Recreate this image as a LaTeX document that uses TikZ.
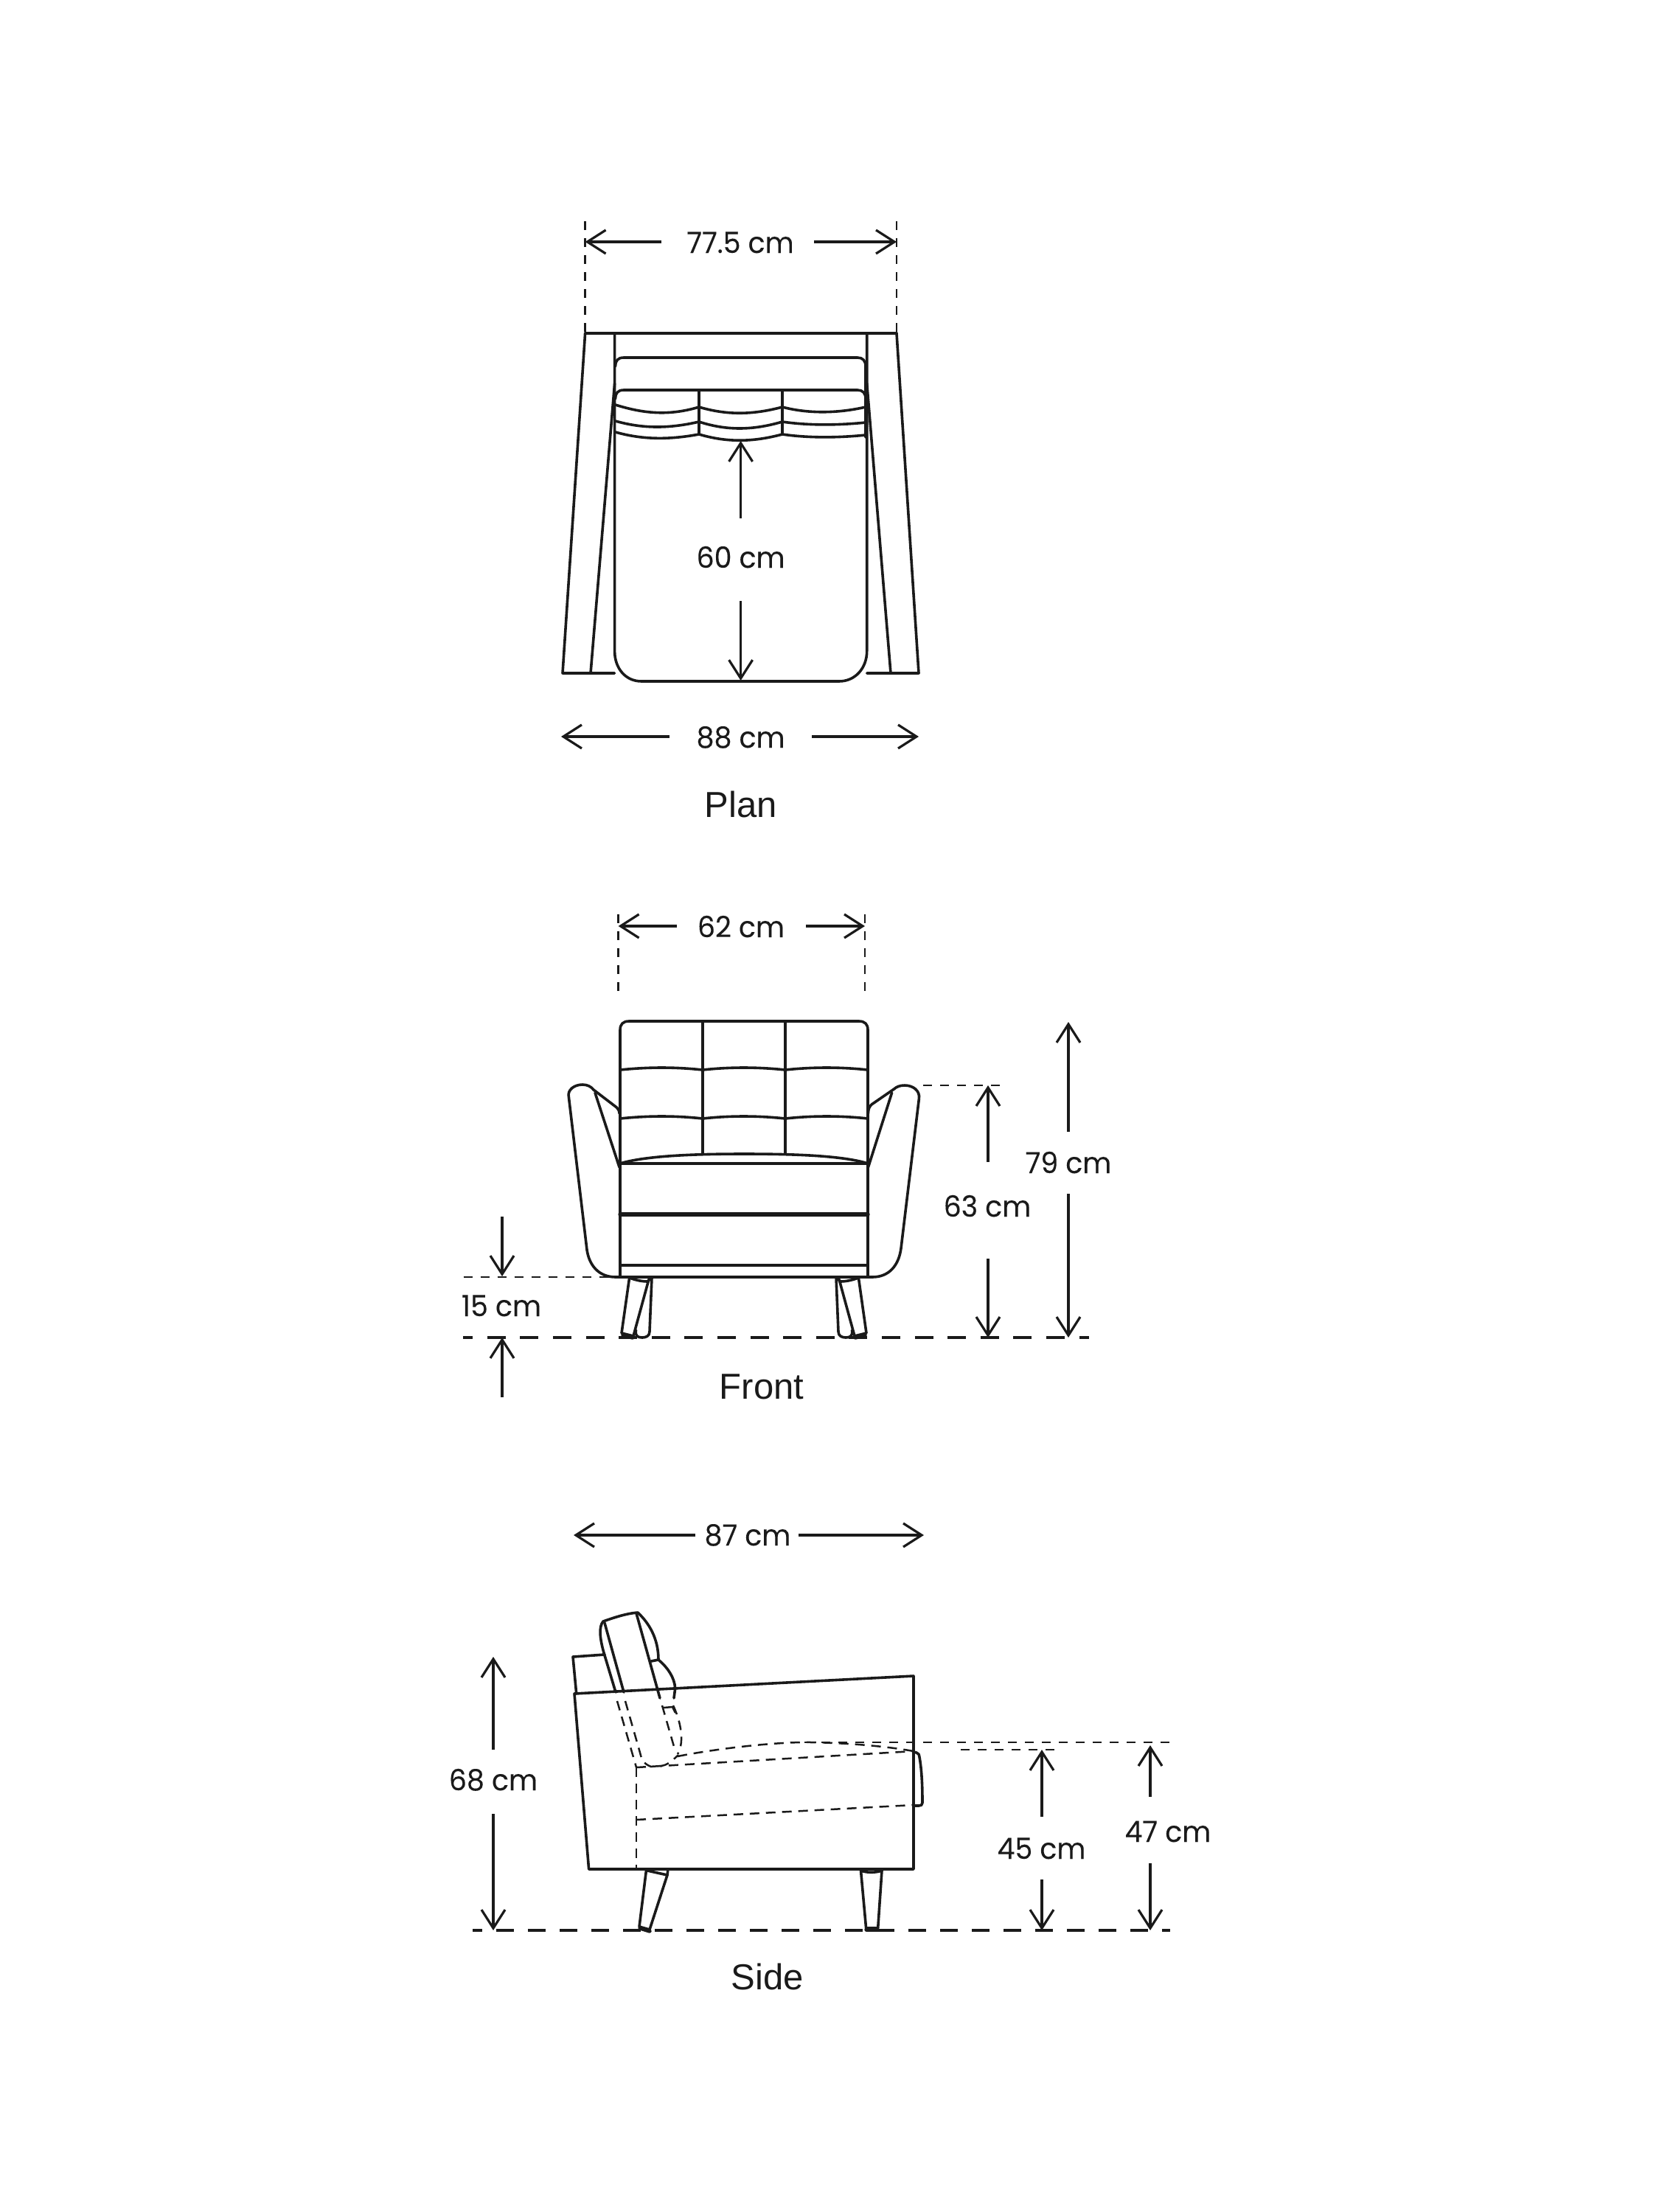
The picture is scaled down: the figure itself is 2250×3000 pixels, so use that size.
\documentclass[tikz,border=0pt]{standalone}
\usepackage{fontspec}
\setmainfont{Liberation Sans}
\newfontfamily\dimfont[FakeStretch=0.96,FakeBold=0.12]{Poppins}
\usetikzlibrary{arrows.meta}
\definecolor{ink}{HTML}{1A1A1A}
\tikzset{
  base/.style={line width=3.6pt,color=ink,line join=round,line cap=round},
  heavy/.style={base,line width=5.4pt},
  hid/.style={line width=2.4pt,color=ink,dash pattern=on 12pt off 11pt},
  hidb/.style={line width=2.5pt,color=ink,dash pattern=on 13pt off 9pt},
  groundf/.style={line width=3.4pt,color=ink,dash pattern=on 25pt off 19.6pt},
  grounds/.style={line width=3.4pt,color=ink,dash pattern=on 24.3pt off 18.7pt},
  dimline/.style={line width=3.1pt,color=ink,-{Straight Barb[length=25pt,width=32pt,line width=3.2pt]}},
  dimtext/.style={font=\dimfont\fontsize{39.5}{40}\selectfont,text=ink,anchor=base,inner sep=0pt},
  viewtext/.style={font=\fontsize{49}{49}\selectfont,text=ink,anchor=base,inner sep=0pt},
}
\begin{document}
\begin{tikzpicture}[x=1pt,y=-1pt]
\useasboundingbox[fill=white] (0,0) rectangle (2250,3000);

%% ---------- PLAN ----------
\draw[hid] (793.6,300) -- (793.6,452);
\draw[hid] (1216,300) -- (1216,452);
\draw[base] (793.6,452) -- (1216,452);
\draw[base] (793.6,452) -- (763,913) -- (833.6,913);
\draw[base] (1216,452) -- (1246,913) -- (1175.7,913);
\draw[base] (801,913) -- (833.6,520);
\draw[base] (1208,913) -- (1175.7,520);
\draw[base] (833.6,452) -- (833.6,883) .. controls (833.6,906) and (848,924) .. (870,924)
  -- (1138,924) .. controls (1160,924) and (1175.7,906) .. (1175.7,883) -- (1175.7,452);
\draw[base] (834.6,497) .. controls (834.6,489) and (838,485) .. (846,485) -- (1163,485)
  .. controls (1170,485) and (1174,489) .. (1174,497) -- (1174,593);
\draw[base] (834.6,541) .. controls (834.6,533) and (838,529) .. (846,529) -- (1163,529)
  .. controls (1170,529) and (1174,533) .. (1174,541);
\draw[base] (948,529) -- (948,589);
\draw[base] (1061,529) -- (1061,589);
\draw[base] (834.6,549) .. controls (870,560) and (905,565) .. (948,552)
  .. controls (985,563) and (1020,563) .. (1061,552)
  .. controls (1095,561) and (1135,561) .. (1174,552);
\draw[base] (834.6,571) .. controls (870,581) and (905,582) .. (948,572)
  .. controls (985,584) and (1020,584) .. (1061,572)
  .. controls (1095,577) and (1135,577) .. (1174,573);
\draw[base] (834.6,586) .. controls (870,596) and (905,597) .. (948,589)
  .. controls (985,600) and (1020,600) .. (1061,589)
  .. controls (1095,594) and (1135,594) .. (1174,590);
% plan dimensions
\node[dimtext] (t775) at (1004,343) {77.5 cm};
\coordinate (a1s) at (897,328); \coordinate (a1e) at (793.6,328);
\coordinate (a2s) at (1104,328); \coordinate (a2e) at (1216,328);
\draw[dimline] (a1s) -- (a1e);
\draw[dimline] (a2s) -- (a2e);
\node[dimtext] (t60) at (1004.6,770) {60 cm};
\coordinate (b1s) at (1004.6,703); \coordinate (b1e) at (1004.6,598);
\coordinate (b2s) at (1004.6,815); \coordinate (b2e) at (1004.6,923);
\draw[dimline] (b1s) -- (b1e);
\draw[dimline] (b2s) -- (b2e);
\node[dimtext] (t88) at (1004.6,1014) {88 cm};
\coordinate (c1s) at (908,999); \coordinate (c1e) at (761,999);
\coordinate (c2s) at (1101,999); \coordinate (c2e) at (1246,999);
\draw[dimline] (c1s) -- (c1e);
\draw[dimline] (c2s) -- (c2e);
\node[viewtext] (plan) at (1005,1108) {Plan};

%% ---------- FRONT ----------
\draw[hid] (838.6,1240) -- (838.6,1345);
\draw[hid] (1173,1240) -- (1173,1345);
\node[dimtext] (t62) at (1005,1271) {62 cm};
\coordinate (d1s) at (918,1256); \coordinate (d1e) at (838.6,1256);
\coordinate (d2s) at (1093,1256); \coordinate (d2e) at (1173,1256);
\draw[dimline] (d1s) -- (d1e);
\draw[dimline] (d2s) -- (d2e);
% back
\draw[base] (841,1732) -- (841,1397) .. controls (841,1389) and (845,1385) .. (853,1385) -- (1165,1385)
  .. controls (1173,1385) and (1177,1389) .. (1177,1397) -- (1177,1732);
\draw[base] (953,1385) -- (953,1565);
\draw[base] (1065,1385) -- (1065,1565);
\draw[base] (841,1451) .. controls (880,1447) and (915,1447) .. (953,1451)
  .. controls (990,1447) and (1027,1447) .. (1065,1451)
  .. controls (1102,1447) and (1140,1447) .. (1177,1451);
\draw[base] (841,1517) .. controls (880,1513) and (915,1513) .. (953,1517)
  .. controls (990,1513) and (1027,1513) .. (1065,1517)
  .. controls (1102,1513) and (1140,1513) .. (1177,1517);
\draw[base] (841,1578) .. controls (880,1566) and (960,1565) .. (1009,1565)
  .. controls (1060,1565) and (1140,1566) .. (1177,1578);
\draw[base] (841,1578) -- (1177,1578);
\draw[heavy] (841,1647) -- (1177,1647);
\draw[base] (841,1716) -- (1177,1716);
\draw[base] (796,1695) -- (771.4,1488) .. controls (769,1478) and (779,1471) .. (790,1471)
  .. controls (797,1471) and (802,1474) .. (805,1478) -- (836.4,1502) .. controls (838,1504) and (840,1506) .. (840,1510);
\draw[base] (807,1482) -- (840,1583);
\draw[base] (796,1695) .. controls (799,1716) and (812,1732) .. (835,1732) -- (1183,1732)
  .. controls (1206,1732) and (1219,1716) .. (1222,1693) -- (1246.4,1490)
  .. controls (1248,1479) and (1238,1472) .. (1227,1472) .. controls (1220,1472) and (1216,1474) .. (1212.5,1477)
  -- (1182,1498) .. controls (1179,1501) and (1177.5,1504) .. (1177.5,1510);
\draw[base] (1209.6,1482) -- (1177.5,1583);
% legs
\draw[base] (853.6,1733) -- (843,1808) -- (859,1812) -- (880,1735);
\draw[heavy] (845,1811) -- (858,1814);
\draw[base] (853.6,1733) .. controls (862,1736) and (870,1738) .. (878.6,1738) -- (882,1734);
\draw[base] (884,1733) -- (881,1806) .. controls (881,1812) and (876,1814) .. (871,1814)
  .. controls (865,1814) and (861,1812) .. (862.5,1804);
\draw[base] (2018-853.6,1733) -- (2018-843,1808) -- (2018-859,1812) -- (2018-880,1735);
\draw[heavy] (2018-845,1811) -- (2018-858,1814);
\draw[base] (2018-853.6,1733) .. controls (2018-862,1736) and (2018-870,1738) .. (2018-878.6,1738) -- (2018-882,1734);
\draw[base] (2018-884,1733) -- (2018-881,1806) .. controls (2018-881,1812) and (2018-876,1814) .. (2018-871,1814)
  .. controls (2018-865,1814) and (2018-861,1812) .. (2018-862.5,1804);
% front dims
\draw[groundf,dash phase=11.9pt] (628,1814) -- (1477,1814);
\draw[hid] (628.6,1732) -- (825,1732);
\draw[hid] (1252,1472) -- (1357,1472);
\node[dimtext] (t15) at (680,1785) {15 cm};
\coordinate (e1s) at (681,1650); \coordinate (e1e) at (681,1731);
\coordinate (e2s) at (681,1895); \coordinate (e2e) at (681,1814);
\draw[dimline] (e1s) -- (e1e);
\draw[dimline] (e2s) -- (e2e);
\node[dimtext] (t79) at (1449,1591) {79 cm};
\coordinate (f1s) at (1449,1535); \coordinate (f1e) at (1449,1386);
\coordinate (f2s) at (1449,1619); \coordinate (f2e) at (1449,1814);
\draw[dimline] (f1s) -- (f1e);
\draw[dimline] (f2s) -- (f2e);
\node[dimtext] (t63) at (1339,1650) {63 cm};
\coordinate (g1s) at (1340,1576); \coordinate (g1e) at (1340,1472);
\coordinate (g2s) at (1340,1707); \coordinate (g2e) at (1340,1814);
\draw[dimline] (g1s) -- (g1e);
\draw[dimline] (g2s) -- (g2e);
\node[viewtext] (front) at (1033,1897) {Front};

%% ---------- SIDE ----------
\node[dimtext] (t87) at (1014,2096) {87 cm};
\coordinate (h1s) at (943,2082); \coordinate (h1e) at (778,2082);
\coordinate (h2s) at (1083,2082); \coordinate (h2e) at (1253,2082);
\draw[dimline] (h1s) -- (h1e);
\draw[dimline] (h2s) -- (h2e);
% body
\draw[base] (779,2297) -- (1239,2273) -- (1239,2535) -- (798.6,2535) -- cycle;
\draw[base] (781.7,2297) -- (777,2247) -- (820,2244);
% headrest
\draw[base] (835,2295) -- (820,2245) .. controls (813,2222) and (812,2206) .. (818,2199)
  .. controls (832,2194) and (850,2188) .. (865,2187)
  .. controls (880,2201) and (893,2222) .. (893,2251)
  .. controls (905,2261) and (915,2275) .. (915.7,2290) -- (914,2303);
\draw[base] (820,2201) -- (846,2295);
\draw[base] (863,2188) -- (895,2303);
\draw[base] (883,2253) -- (893,2251);
\draw[hidb] (837,2307) -- (863,2397);
\draw[hidb] (848,2307) -- (868,2377) .. controls (870,2385) and (872,2392) .. (883,2396)
  -- (897,2395) .. controls (903,2394) and (909,2391) .. (920,2380);
\draw[hidb] (898,2313) -- (915,2372);
\draw[hidb] (913,2313) .. controls (921,2330) and (930,2360) .. (919,2379);
\draw[line width=2.5pt,color=ink] (900,2316) -- (912,2315) -- (916,2323);
% seat hidden lines
\draw[hidb] (863,2397) -- (1239,2375);
\draw[hidb] (919,2382) .. controls (980,2370) and (1060,2362) .. (1101,2363)
  .. controls (1150,2364) and (1200,2368) .. (1239,2375);
\draw[hidb] (863,2468) -- (1239,2448);
\draw[hidb] (863,2397) -- (863,2535);
% front cushion bump
\draw[base] (1239,2376) -- (1243,2377) .. controls (1246,2378) and (1247,2380) .. (1247,2383)
  .. controls (1250,2400) and (1251,2420) .. (1251,2445)
  .. controls (1251,2448) and (1249,2449) .. (1246,2449) -- (1239,2449);
% legs
\draw[base] (876.4,2537) -- (867,2613) -- (881,2617) -- (905,2543) -- (905.7,2537);
\draw[base] (878,2537) -- (905,2543);
\draw[heavy] (868,2615) -- (881,2619);
\draw[base] (1167.5,2537) -- (1174.6,2615) -- (1190.7,2615) -- (1196,2537)
  .. controls (1187,2540) and (1176,2540) .. (1167.5,2537);
\draw[heavy] (1175,2617) -- (1190,2617);
% side dims
\draw[grounds,dash phase=11pt] (641,2618) -- (1587,2618);
\draw[hid] (1091,2363) -- (1587,2363);
\draw[hid] (1303,2373) -- (1432,2373);
\node[dimtext] (t68) at (669,2428) {68 cm};
\coordinate (i1s) at (669,2373); \coordinate (i1e) at (669,2247);
\coordinate (i2s) at (669,2460); \coordinate (i2e) at (669,2618);
\draw[dimline] (i1s) -- (i1e);
\draw[dimline] (i2s) -- (i2e);
\node[dimtext] (t45) at (1412.5,2521) {45 cm};
\coordinate (j1s) at (1413,2464); \coordinate (j1e) at (1413,2373);
\coordinate (j2s) at (1413,2549); \coordinate (j2e) at (1413,2618);
\draw[dimline] (j1s) -- (j1e);
\draw[dimline] (j2s) -- (j2e);
\node[dimtext] (t47) at (1584,2498) {47 cm};
\coordinate (k1s) at (1560,2437); \coordinate (k1e) at (1560,2367);
\coordinate (k2s) at (1560,2527); \coordinate (k2e) at (1560,2618);
\draw[dimline] (k1s) -- (k1e);
\draw[dimline] (k2s) -- (k2e);
\node[viewtext] (side) at (1041,2698) {Side};
\end{tikzpicture}
\end{document}
